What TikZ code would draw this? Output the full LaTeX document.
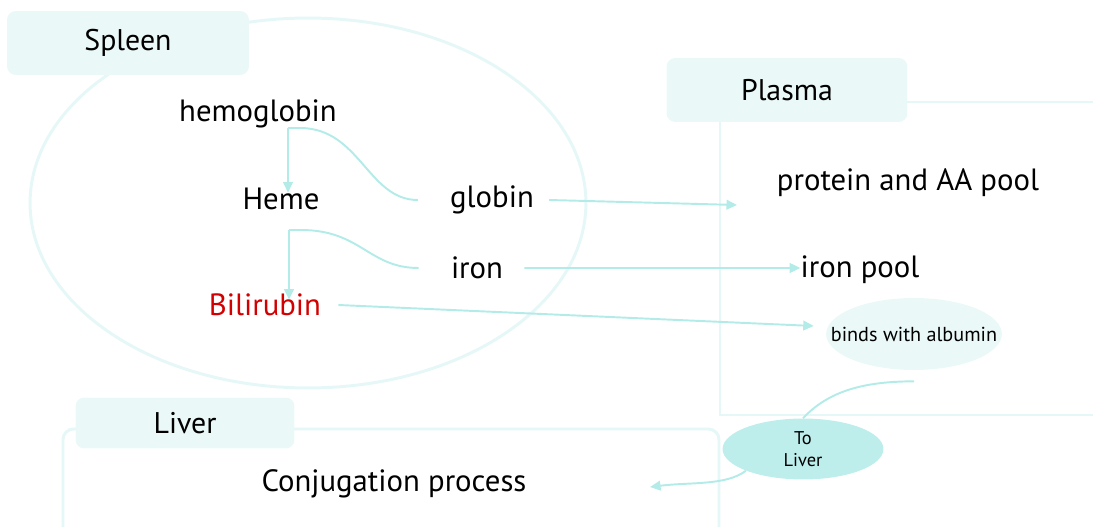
\documentclass[tikz,border=0pt]{standalone}
\usepackage{fontspec}
\setmainfont{PT Sans}
\usetikzlibrary{arrows.meta, positioning, shapes.geometric}
\definecolor{boxFill}{HTML}{EBF8F8}
\definecolor{frameLine}{HTML}{E6F7F7}
\definecolor{linkCyan}{HTML}{B3EBE8}
\definecolor{liverFill}{HTML}{BDEEEC}
\definecolor{biliRed}{HTML}{D20000}

\begin{document}
\begin{tikzpicture}[x=0.02cm, y=-0.02cm,
  organ/.style={rounded corners=5pt, fill=boxFill, inner sep=0pt,
    font=\fontsize{17}{20}\selectfont},
  frame/.style={draw=frameLine, line width=1.7pt},
  term/.style={inner sep=0pt, font=\fontsize{17.5}{21}\selectfont},
  link/.style={draw=linkCyan, line width=1.1pt},
  arrow/.style={link, -{Triangle[length=6pt, width=5.5pt]}}]
  \useasboundingbox (0,0) rectangle (1093,527);
  \clip (0,0) rectangle (1093,527);

  % compartments
  \draw[frame] (308,203) ellipse [x radius=5.56cm, y radius=3.7cm];
  \draw[frame] (720,102) rectangle (1130,415);
  \draw[frame, rounded corners=6pt] (63,429) rectangle (719,580);
  \node[organ, minimum width=4.84cm, minimum height=1.28cm] (spleen) at (128,43) {Spleen};
  \node[organ, minimum width=4.82cm, minimum height=1.28cm] (plasma) at (787,90) {Plasma};
  \node[organ, minimum width=4.38cm, minimum height=1.02cm] (liver) at (185,423) {Liver};

  % spleen
  \node[term] (hemo) at (258,114) {hemoglobin};
  \node[term] (heme) at (281,199) {Heme};
  \node[term] (globin) at (492,200) {globin};
  \node[term] (iron) at (477,268) {iron};
  \node[term, text=biliRed] (bili) at (265,305) {Bilirubin};
  \coordinate (hemoFork) at (288,128);
  \coordinate (hemeFork) at (289,230);

  % plasma
  \node[term] (protein) at (908,183) {protein and AA pool};
  \node[term] (ironpool) at (860,270) {iron pool};
  \node[ellipse, fill=boxFill, inner xsep=-0.42cm, inner ysep=0pt,
    minimum height=1.44cm, font=\fontsize{11.5}{14}\selectfont] (albumin) at (914,334) {binds with albumin};
  \coordinate (proteinIn) at (737,205);

  % liver
  \node[ellipse, fill=liverFill, align=center, inner xsep=0.75cm, inner ysep=0.08cm,
    font=\fontsize{10.5}{12.5}\selectfont] (toliver) at (803,449) {To\\Liver};
  \node[term] (conj) at (394,484) {Conjugation process};
  \coordinate (conjIn) at (650,487);

  % connectors
  \draw[arrow, shorten >=-0.1cm] (hemoFork) -- (hemoFork |- heme.north);
  \draw[link] (hemoFork) -- ++(12,0) .. controls +(60,0) and +(-50,0) .. ([xshift=-0.64cm]globin.west);
  \draw[arrow, shorten >=-0.12cm] (hemeFork) -- (hemeFork |- bili.north);
  \draw[link] (hemeFork) -- ++(12,0) .. controls +(60,0) and +(-50,0) .. ([xshift=-0.64cm]iron.west);
  \draw[arrow] ([xshift=0.3cm]globin.east) -- (proteinIn);
  \draw[arrow] ([xshift=0.42cm]iron.east) -- ([yshift=0.04cm]ironpool.west);
  \draw[arrow] ([xshift=0.34cm]bili.east) -- ([shift={(-12,-8)}]albumin.west);
  \draw[link] ([yshift=-0.22cm]albumin.south) .. controls +(-57,0) and +(23,-24) .. (toliver.north);
  \draw[arrow] (toliver.south west) .. controls +(-20,15) and +(40,-5) .. (conjIn);
\end{tikzpicture}
\end{document}
